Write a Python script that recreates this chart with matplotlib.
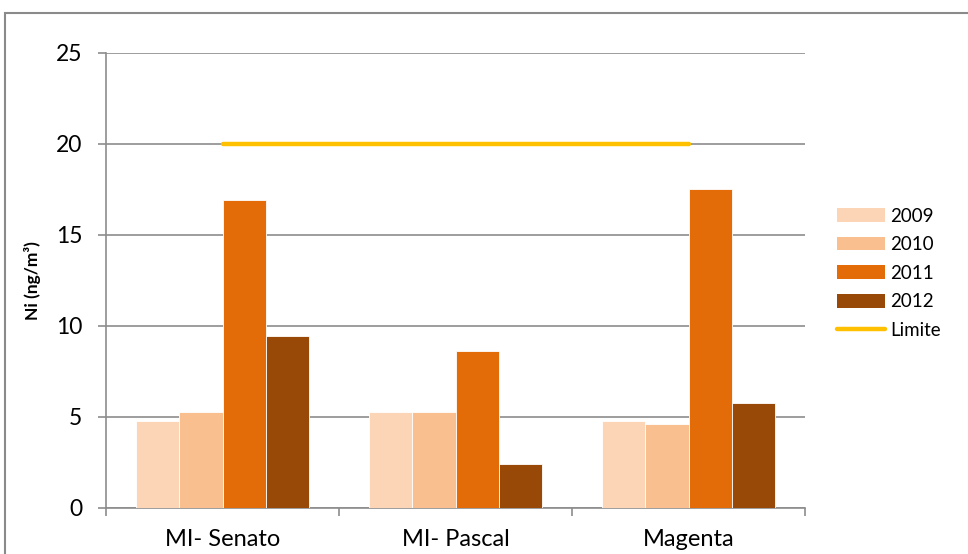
import numpy as np
import matplotlib.pyplot as plt
from matplotlib.patches import Rectangle, Patch
from matplotlib.lines import Line2D

plt.rcParams['font.family'] = ['Lato', 'DejaVu Sans']

stations = ['MI- Senato', 'MI- Pascal', 'Magenta']
years = ['2009', '2010', '2011', '2012']
ni_2009 = [4.78, 5.27, 4.76]
ni_2010 = [5.27, 5.27, 4.62]
ni_2011 = [16.89, 8.61, 17.53]
ni_2012 = [9.45, 2.38, 5.77]
limite = 20

colors = ['#FBD5B5', '#F9BF8F', '#E36C09', '#984807']
series = [ni_2009, ni_2010, ni_2011, ni_2012]

fig = plt.figure(figsize=(9.68, 5.54), dpi=100)
ax = fig.add_axes([106/968, 1 - 507.7/554, (805 - 106)/968, (507.7 - 52.7)/554])

# outer chart frame
fig.patches.append(Rectangle((5/968, -0.1), 1.2, 1 - 13/554 + 0.1,
                             transform=fig.transFigure, fill=False,
                             edgecolor='#8a8a8a', linewidth=1.5))

x = np.arange(len(stations))
w = 0.185
for i, (vals, c) in enumerate(zip(series, colors)):
    ax.bar(x + (i - 1.5) * w, vals, width=w, color=c, edgecolor='white',
           linewidth=0.6, zorder=3)

ax.plot([x[0], x[-1]], [limite, limite], color='#FFC000', linewidth=3.2,
        solid_capstyle='round', zorder=4)

ax.set_xlim(-0.5, 2.5)
ax.set_ylim(0, 25)
ax.set_yticks(np.arange(0, 26, 5))
ax.yaxis.grid(True, color='#8c8c8c', linewidth=1.2, zorder=0)
ax.set_axisbelow(True)

ax.set_xticks(x)
ax.set_xticklabels(stations)
ax.set_xticks([-0.5, 0.5, 1.5, 2.5], minor=True)
ax.tick_params(axis='x', which='major', length=0, pad=15, labelsize=17)
ax.tick_params(axis='x', which='minor', length=6, width=1.2, color='#8c8c8c',
               direction='out')
ax.tick_params(axis='y', length=6, width=1.2, color='#8c8c8c', pad=11,
               labelsize=16.5)

for s in ['top', 'right']:
    ax.spines[s].set_visible(False)
for s in ['left', 'bottom']:
    ax.spines[s].set_color('#8c8c8c')
    ax.spines[s].set_linewidth(1.2)

ax.set_ylabel('Ni (ng/m³)', fontsize=12.5, fontweight='bold', labelpad=11)

handles = [Patch(facecolor=c, edgecolor='none') for c in colors]
handles.append(Line2D([0], [0], color='#FFC000', linewidth=3.2,
                      solid_capstyle='round'))
fig.legend(handles, years + ['Limite'], loc='upper left',
           bbox_to_anchor=(829/968, 1 - 200/554), frameon=False,
           fontsize=13.5, handlelength=2.6, handleheight=0.75,
           labelspacing=0.62, handletextpad=0.25, borderaxespad=0)

fig.savefig('out.png', dpi=100)
